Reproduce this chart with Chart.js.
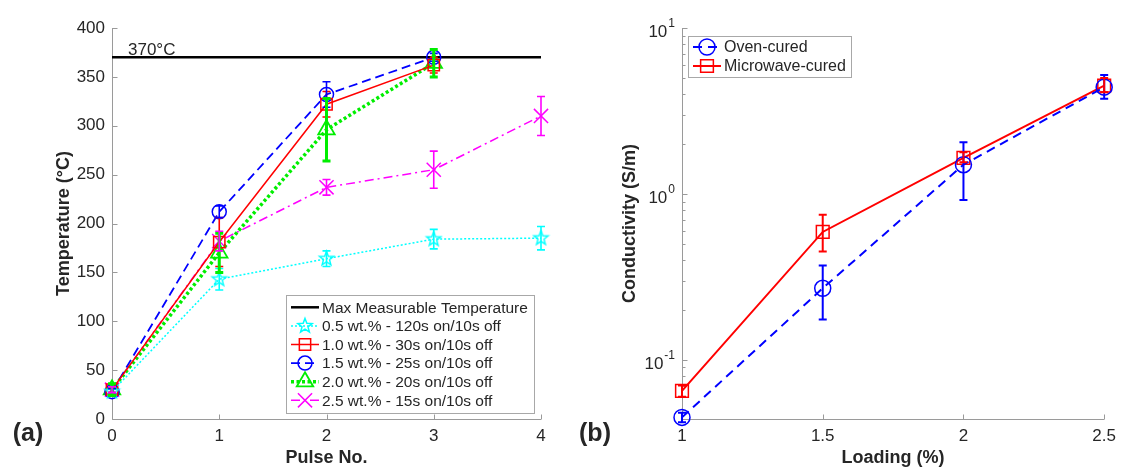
<!DOCTYPE html>
<html>
<head>
<meta charset="utf-8">
<script src="https://cdn.jsdelivr.net/npm/chart.js@4.4.0/dist/chart.umd.min.js"></script>
<style>
  html, body { margin: 0; padding: 0; background: #fff; }
  #wrap { position: relative; width: 1123px; height: 468px; overflow: hidden; }
  #left { position: absolute; left: 0; top: 0; }
  #right { position: absolute; left: 560px; top: 0; }
</style>
</head>
<body>
<div id="wrap">
  <canvas id="left" width="560" height="468" style="width:560px;height:468px"></canvas>
  <canvas id="right" width="563" height="468" style="width:563px;height:468px"></canvas>
</div>
<script>
// ---- (a) temperature vs pulse ----
const pulses = [0, 1, 2, 3, 4];
const maxTemp = 370;
const temp05 = [28, 143, 164, 184, 185];
const err05 = [3, 11, 8, 10, 12];
const temp10 = [30, 181, 322, 362];
const err10 = [3, 25, 13, 8];
const temp15 = [28, 212, 332, 370];
const err15 = [3, 6, 13, 4];
const temp20 = [30, 170, 296, 364];
const err20 = [6, 20, 32, 14];
const temp25 = [30, 182, 237, 255, 310];
const err25 = [3, 10, 8, 19, 20];
const labelsA = [
    'Max Measurable Temperature',
    '0.5 wt.% - 120s on/10s off',
    '1.0 wt.% - 30s on/10s off',
    '1.5 wt.% - 25s on/10s off',
    '2.0 wt.% - 20s on/10s off',
    '2.5 wt.% - 15s on/10s off'
];

// ---- (b) conductivity vs loading ----
const loading = [1, 1.5, 2, 2.5];
const loadingLabels = ['1', '1.5', '2', '2.5'];
const ovenCond = [0.045, 0.27, 1.5, 4.4];
const ovenLow = [0.042, 0.175, 0.92, 3.75];
const ovenHigh = [0.048, 0.37, 2.05, 5.2];
const microCond = [0.065, 0.59, 1.65, 4.5];
const microLow = [0.06, 0.45, 1.55, 4.1];
const microHigh = [0.07, 0.75, 1.78, 5.0];
const condTicks = [0.1, 1, 10];
const condTickExp = ['-1', '0', '1'];
const labelsB = ['Oven-cured', 'Microwave-cured'];

const FONT = '"Liberation Sans", Arial, Helvetica, sans-serif';
const TEXT = '#262626';
const AXIS = '#9a9a9a';
Chart.defaults.font.family = FONT;
Chart.defaults.color = TEXT;

function drawMarker(ctx, kind, x, y, r, color, lw) {
    ctx.save();
    ctx.strokeStyle = color;
    ctx.lineWidth = lw;
    ctx.setLineDash([]);
    ctx.beginPath();
    if (kind === 'circle') {
        ctx.arc(x, y, r, 0, Math.PI * 2);
    } else if (kind === 'rect') {
        const s = r * Math.SQRT1_2;
        ctx.rect(x - s, y - s, 2 * s, 2 * s);
    } else if (kind === 'triangle') {
        for (let k = 0; k < 3; k++) {
            const a = k * Math.PI * 2 / 3;
            ctx.lineTo(x + Math.sin(a) * r, y - Math.cos(a) * r);
        }
        ctx.closePath();
    } else if (kind === 'crossRot') {
        const o = r * Math.SQRT1_2;
        ctx.moveTo(x - o, y - o); ctx.lineTo(x + o, y + o);
        ctx.moveTo(x + o, y - o); ctx.lineTo(x - o, y + o);
    } else if (kind === 'star5') {
        for (let k = 0; k < 10; k++) {
            const rr = k % 2 === 0 ? r : r * 0.42;
            const a = k * Math.PI / 5;
            ctx.lineTo(x + Math.sin(a) * rr, y - Math.cos(a) * rr);
        }
        ctx.closePath();
    }
    ctx.stroke();
    ctx.restore();
}

// pentagram image for the cyan points
function starImage(r, color, lw) {
    const c = document.createElement('canvas');
    c.width = c.height = Math.ceil(2 * r + 4);
    drawMarker(c.getContext('2d'), 'star5', c.width / 2, c.height / 2, r, color, lw);
    return c;
}

function pts(xs, ys) {
    return ys.map((v, i) => ({ x: xs[i], y: v }));
}

function series(label, xs, ys, low, high, color, marker, r, dash, width, extra) {
    return Object.assign({
        label, data: pts(xs, ys),
        errLow: low, errHigh: high,
        borderColor: color, borderWidth: width, borderDash: dash,
        marker, pointStyle: marker === 'star5' ? starImage(r, color, 1.4) : marker,
        pointRadius: r, pointBorderWidth: 1.5, pointBorderColor: color,
        pointBackgroundColor: 'rgba(0,0,0,0)',
        fill: false, tension: 0, clip: false,
        errWidth: 1.6, cap: 4
    }, extra || {});
}

const errorBars = {
    id: 'errorBars',
    afterDatasetsDraw(chart) {
        const ctx = chart.ctx, xs = chart.scales.x, ys = chart.scales.y;
        chart.data.datasets.forEach(ds => {
            if (!ds.errLow) return;
            ctx.save();
            ctx.strokeStyle = ds.borderColor;
            ctx.lineWidth = ds.errWidth;
            ctx.setLineDash([]);
            ds.data.forEach((p, i) => {
                const px = xs.getPixelForValue(p.x);
                const y1 = ys.getPixelForValue(ds.errLow[i]);
                const y2 = ys.getPixelForValue(ds.errHigh[i]);
                ctx.beginPath();
                ctx.moveTo(px, y1); ctx.lineTo(px, y2);
                ctx.moveTo(px - ds.cap, y1); ctx.lineTo(px + ds.cap, y1);
                ctx.moveTo(px - ds.cap, y2); ctx.lineTo(px + ds.cap, y2);
                ctx.stroke();
            });
            ctx.restore();
        });
    }
};

// matlab style axes: box off, ticks pointing in
const decor = {
    id: 'decor',
    beforeDatasetsDraw(chart, args, o) {
        const ctx = chart.ctx, ca = chart.chartArea, xs = chart.scales.x, ys = chart.scales.y;
        ctx.save();
        ctx.strokeStyle = AXIS;
        ctx.lineWidth = 1;
        ctx.beginPath();
        const L = Math.round(ca.left) + 0.5, B = Math.round(ca.bottom) + 0.5;
        ctx.moveTo(L, ca.top); ctx.lineTo(L, B); ctx.lineTo(ca.right, B);
        xs.ticks.forEach(t => {
            const p = Math.round(xs.getPixelForValue(t.value)) + 0.5;
            ctx.moveTo(p, B); ctx.lineTo(p, B - 5);
        });
        ys.ticks.forEach(t => {
            const p = Math.round(ys.getPixelForValue(t.value)) + 0.5;
            ctx.moveTo(L, p); ctx.lineTo(L + 5, p);
        });
        if (o.minorLog) {
            for (let k = -2; k <= 1; k++) {
                for (let m = 2; m <= 9; m++) {
                    const v = m * Math.pow(10, k);
                    if (v < ys.min || v > ys.max) continue;
                    const p = Math.round(ys.getPixelForValue(v)) + 0.5;
                    ctx.moveTo(L, p); ctx.lineTo(L + 3, p);
                }
            }
        }
        ctx.stroke();
        ctx.restore();
    },
    afterDraw(chart, args, o) {
        const ctx = chart.ctx, ca = chart.chartArea, xs = chart.scales.x, ys = chart.scales.y;
        ctx.save();
        ctx.fillStyle = TEXT;
        if (o.expLabels) {
            ys.ticks.forEach((t, i) => {
                const p = ys.getPixelForValue(t.value);
                const exp = o.expLabels[i];
                ctx.font = '12px ' + FONT;
                const ew = ctx.measureText(exp).width;
                const right = ca.left - 7;
                ctx.textAlign = 'left';
                ctx.textBaseline = 'middle';
                ctx.fillText(exp, right - ew, p - 4);
                ctx.font = '17px ' + FONT;
                ctx.textAlign = 'right';
                ctx.fillText('10', right - ew - 1, p + 4);
            });
        }
        if (o.note) {
            ctx.font = '17px ' + FONT;
            ctx.textAlign = 'left';
            ctx.textBaseline = 'alphabetic';
            ctx.fillText(o.note.text, xs.getPixelForValue(o.note.x) + 16, ys.getPixelForValue(o.note.y) - 2);
        }
        ctx.font = 'bold 18px ' + FONT;
        ctx.textAlign = 'center';
        ctx.textBaseline = 'middle';
        ctx.fillText(o.xTitle, (ca.left + ca.right) / 2, 458);
        ctx.save();
        ctx.translate(o.yTitleX, (ca.top + ca.bottom) / 2);
        ctx.rotate(-Math.PI / 2);
        ctx.fillText(o.yTitle, 0, 0);
        ctx.restore();
        ctx.font = 'bold 25px ' + FONT;
        ctx.fillText(o.panel, o.panelX, 434);
        ctx.restore();
    }
};

const mLegend = {
    id: 'mLegend',
    afterDraw(chart, args, o) {
        const ctx = chart.ctx, ca = chart.chartArea;
        const items = chart.data.datasets;
        ctx.save();
        ctx.font = o.fontSize + 'px ' + FONT;
        let tw = 0;
        items.forEach(d => { tw = Math.max(tw, ctx.measureText(d.label).width); });
        const w = 36 + tw + o.padRight;
        const h = o.padTop * 2 + o.rowH * (items.length - 1);
        let left, top;
        if (o.corner === 'br') {
            left = ca.right - o.inset[0] - w;
            top = ca.bottom - o.inset[1] - h;
        } else {
            left = ca.left + o.inset[0];
            top = ca.top + o.inset[1];
        }
        left = Math.round(left); top = Math.round(top);
        ctx.fillStyle = '#fff';
        ctx.fillRect(left, top, w, h);
        ctx.strokeStyle = '#a8a8a8';
        ctx.lineWidth = 1;
        ctx.strokeRect(left + 0.5, top + 0.5, Math.round(w), Math.round(h));
        items.forEach((d, i) => {
            const cy = top + o.padTop + i * o.rowH;
            ctx.strokeStyle = d.borderColor;
            ctx.lineWidth = d.borderWidth;
            ctx.setLineDash(d.borderDash || []);
            ctx.beginPath();
            ctx.moveTo(left + 5, cy); ctx.lineTo(left + 33, cy);
            ctx.stroke();
            if (d.marker) drawMarker(ctx, d.marker, left + 19, cy, d.pointRadius, d.borderColor, d.pointBorderWidth);
            ctx.fillStyle = TEXT;
            ctx.textAlign = 'left';
            ctx.textBaseline = 'middle';
            ctx.fillText(d.label, left + 36, cy + 1);
        });
        ctx.restore();
    }
};

const tickFont = { size: 17, family: FONT };

new Chart(document.getElementById('left'), {
    type: 'line',
    data: {
        datasets: [
            {
                label: labelsA[0], data: pts([0, 4], [maxTemp, maxTemp]),
                borderColor: '#000', borderWidth: 2.5, pointRadius: 0, fill: false, clip: false, order: 10
            },
            series(labelsA[1], pulses, temp05, temp05.map((v, i) => v - err05[i]), temp05.map((v, i) => v + err05[i]),
                '#00ffff', 'star5', 7.5, [2, 2], 1.5),
            series(labelsA[2], pulses, temp10, temp10.map((v, i) => v - err10[i]), temp10.map((v, i) => v + err10[i]),
                '#ff0000', 'rect', 8, [], 1.5),
            series(labelsA[3], pulses, temp15, temp15.map((v, i) => v - err15[i]), temp15.map((v, i) => v + err15[i]),
                '#0000ff', 'circle', 7, [9, 5], 1.8),
            series(labelsA[4], pulses, temp20, temp20.map((v, i) => v - err20[i]), temp20.map((v, i) => v + err20[i]),
                '#00ee00', 'triangle', 9.5, [3, 2.5], 3.5, { errWidth: 3, pointBorderWidth: 1.8 }),
            series(labelsA[5], pulses, temp25, temp25.map((v, i) => v - err25[i]), temp25.map((v, i) => v + err25[i]),
                '#ff00ff', 'crossRot', 10, [9, 4, 2, 4], 1.5)
        ]
    },
    options: {
        responsive: false,
        animation: false,
        layout: { padding: { left: 0, right: 19, top: 28, bottom: 0 } },
        plugins: {
            legend: { display: false },
            tooltip: { enabled: false },
            decor: { xTitle: 'Pulse No.', yTitle: 'Temperature (°C)', yTitleX: 64, panel: '(a)', panelX: 28,
                     note: { text: '370°C', x: 0, y: maxTemp } },
            mLegend: { corner: 'br', inset: [7, 6], fontSize: 15.5, rowH: 18.6, padTop: 12.3, padRight: 6 }
        },
        scales: {
            x: {
                type: 'linear', min: 0, max: 4,
                afterFit(s) { s.height = 49; },
                grid: { display: false, drawTicks: false },
                border: { display: false },
                ticks: { stepSize: 1, padding: 7, color: TEXT, font: tickFont }
            },
            y: {
                type: 'linear', min: 0, max: 400,
                afterFit(s) { s.width = 112; },
                grid: { display: false, drawTicks: false },
                border: { display: false },
                ticks: { stepSize: 50, padding: 7, color: TEXT, font: tickFont }
            }
        }
    },
    plugins: [decor, errorBars, mLegend]
});

new Chart(document.getElementById('right'), {
    type: 'line',
    data: {
        datasets: [
            series(labelsB[0], loading, ovenCond, ovenLow, ovenHigh, '#0000ff', 'circle', 8, [9, 6], 2, { errWidth: 2 }),
            series(labelsB[1], loading, microCond, microLow, microHigh, '#ff0000', 'rect', 9, [], 2, { errWidth: 2 })
        ]
    },
    options: {
        responsive: false,
        animation: false,
        layout: { padding: { left: 0, right: 12, top: 28, bottom: 0 } },
        plugins: {
            legend: { display: false },
            tooltip: { enabled: false },
            decor: { xTitle: 'Loading (%)', yTitle: 'Conductivity (S/m)', yTitleX: 70, panel: '(b)', panelX: 35,
                     minorLog: true, expLabels: condTickExp },
            mLegend: { corner: 'tl', inset: [6, 8], fontSize: 16, rowH: 19, padTop: 11, padRight: 5 }
        },
        scales: {
            x: {
                type: 'linear', min: 1, max: 2.5,
                afterBuildTicks(s) { s.ticks = loading.map(v => ({ value: v })); },
                afterFit(s) { s.height = 49; },
                grid: { display: false, drawTicks: false },
                border: { display: false },
                ticks: {
                    padding: 7, color: TEXT, font: tickFont,
                    callback: (v, i) => loadingLabels[i]
                }
            },
            y: {
                type: 'logarithmic', min: 0.044, max: 10,
                afterBuildTicks(s) { s.ticks = condTicks.map(v => ({ value: v })); },
                afterFit(s) { s.width = 122; },
                grid: { display: false, drawTicks: false },
                border: { display: false },
                ticks: { display: false }
            }
        }
    },
    plugins: [decor, errorBars, mLegend]
});
</script>
</body>
</html>
